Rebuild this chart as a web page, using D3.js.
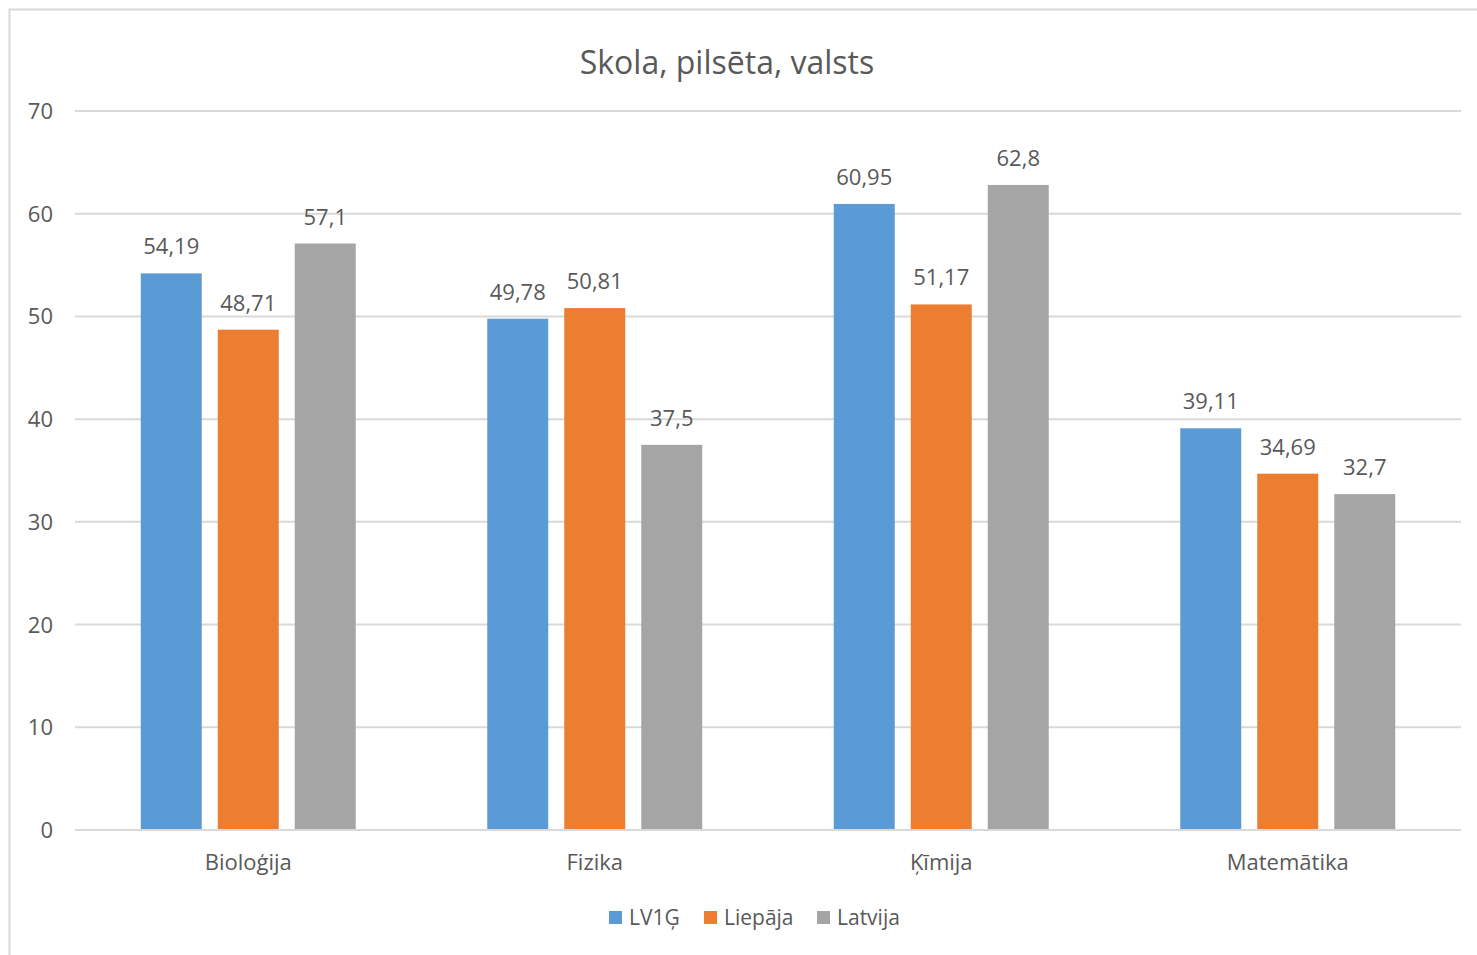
<!DOCTYPE html>
<html>
<head>
<meta charset="utf-8">
<script src="https://cdn.jsdelivr.net/npm/d3@7"></script>
<style>
  body { margin: 0; background: #fff; }
  text { font-family: "Open Sans", Lato, sans-serif; fill: #595959; }
</style>
</head>
<body>
<script>
var w = 1477;
var h = 955;

var categories = ["Bioloģija", "Fizika", "Ķīmija", "Matemātika"];
var seriesNames = ["LV1Ģ", "Liepāja", "Latvija"];
var seriesColors = ["#5b9bd5", "#ed7d31", "#a5a5a5"];
var lv1g = [54.19, 49.78, 60.95, 39.11];
var liepaja = [48.71, 50.81, 51.17, 34.69];
var latvija = [57.1, 37.5, 62.8, 32.7];
var yTicks = [0, 10, 20, 30, 40, 50, 60, 70];

var series = [lv1g, liepaja, latvija];

var svg = d3.select("body")
  .append("svg")
  .attr("width", w)
  .attr("height", h);

// chart border (cut off at right and bottom)
svg.append("rect")
  .attr("x", 9.5)
  .attr("y", 9.5)
  .attr("width", w + 20)
  .attr("height", h + 20)
  .attr("fill", "none")
  .attr("stroke", "#d9d9d9")
  .attr("stroke-width", 2);

var plotLeft = 75, plotRight = 1461, plotTop = 111, plotBottom = 830;

var x = d3.scaleBand()
  .domain(categories)
  .range([plotLeft, plotRight])
  .padding(0);

var xs = d3.scaleBand()
  .domain(d3.range(series.length))
  .range([0, x.bandwidth()])
  .paddingInner(0.208)
  .paddingOuter(0.854);

var y = d3.scaleLinear()
  .domain([0, 70])
  .range([plotBottom, plotTop]);

// gridlines
svg.selectAll("line.grid")
  .data(yTicks)
  .enter()
  .append("line")
  .attr("class", "grid")
  .attr("x1", plotLeft)
  .attr("x2", plotRight)
  .attr("y1", function(d) { return y(d); })
  .attr("y2", function(d) { return y(d); })
  .attr("stroke", "#d9d9d9")
  .attr("stroke-width", 2);

// y tick labels
svg.selectAll("text.ytick")
  .data(yTicks)
  .enter()
  .append("text")
  .attr("class", "ytick")
  .attr("x", 53)
  .attr("y", function(d) { return y(d) + 8; })
  .attr("text-anchor", "end")
  .attr("font-size", "22px")
  .text(function(d) { return d; });

var fmt = function(v) { return String(v).replace(".", ","); };

// bars and labels
series.forEach(function(vals, si) {
  svg.selectAll("rect.s" + si)
    .data(vals)
    .enter()
    .append("rect")
    .attr("class", "s" + si)
    .attr("x", function(d, i) { return x(categories[i]) + xs(si); })
    .attr("y", function(d) { return y(d); })
    .attr("width", xs.bandwidth())
    .attr("height", function(d) { return y(0) - y(d); })
    .attr("fill", seriesColors[si]);

  svg.selectAll("text.l" + si)
    .data(vals)
    .enter()
    .append("text")
    .attr("class", "l" + si)
    .attr("x", function(d, i) { return x(categories[i]) + xs(si) + xs.bandwidth() / 2; })
    .attr("y", function(d) { return y(d) - 19; })
    .attr("text-anchor", "middle")
    .attr("font-size", "22px")
    .text(function(d) { return fmt(d); });
});

// redraw baseline on top
svg.append("line")
  .attr("x1", plotLeft)
  .attr("x2", plotRight)
  .attr("y1", y(0))
  .attr("y2", y(0))
  .attr("stroke", "#d9d9d9")
  .attr("stroke-width", 2);

// category labels
svg.selectAll("text.cat")
  .data(categories)
  .enter()
  .append("text")
  .attr("class", "cat")
  .attr("x", function(d) { return x(d) + x.bandwidth() / 2; })
  .attr("y", 870)
  .attr("text-anchor", "middle")
  .attr("font-size", "22px")
  .text(function(d) { return d; });

// title
svg.append("text")
  .attr("x", 727)
  .attr("y", 74)
  .attr("text-anchor", "middle")
  .attr("font-size", "32px")
  .text("Skola, pilsēta, valsts");

// legend
var legendX = [609, 704, 817];
var lg = svg.selectAll("g.legend")
  .data(seriesNames)
  .enter()
  .append("g")
  .attr("class", "legend")
  .attr("transform", function(d, i) { return "translate(" + legendX[i] + ",911)"; });

lg.append("rect")
  .attr("width", 13)
  .attr("height", 13)
  .attr("fill", function(d, i) { return seriesColors[i]; });

lg.append("text")
  .attr("x", 20)
  .attr("y", 14)
  .attr("font-size", "21px")
  .text(function(d) { return d; });
</script>
</body>
</html>
